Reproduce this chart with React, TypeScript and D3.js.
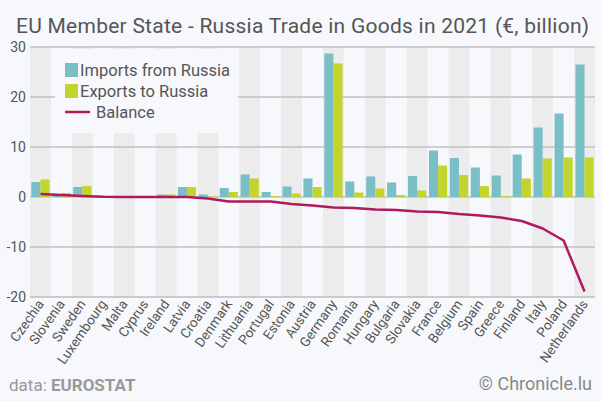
import React from "react";
import * as d3 from "d3";

const countries = ["Czechia","Slovenia","Sweden","Luxembourg","Malta","Cyprus","Ireland","Latvia","Croatia","Denmark","Lithuania","Portugal","Estonia","Austria","Germany","Romania","Hungary","Bulgaria","Slovakia","France","Belgium","Spain","Greece","Finland","Italy","Poland","Netherlands"];
const imports = [3.0,0.5,2.0,0.05,0.05,0.05,0.5,2.0,0.5,1.8,4.5,1.0,2.1,3.7,28.7,3.1,4.1,2.9,4.2,9.3,7.8,5.9,4.3,8.5,13.9,16.7,26.5];
const exportsR = [3.5,0.8,2.2,0.05,0.05,0.05,0.5,2.0,0.1,1.0,3.7,0.2,0.7,2.0,26.7,0.9,1.7,0.4,1.3,6.3,4.4,2.2,0.2,3.7,7.7,7.9,7.9];
const balance = [0.6,0.4,0.2,0.05,0,0,0,0,-0.3,-0.9,-0.9,-0.9,-1.4,-1.7,-2.1,-2.2,-2.5,-2.6,-2.9,-3.0,-3.4,-3.7,-4.1,-4.8,-6.3,-8.7,-18.9];
const yTicks = [30,20,10,0,-10,-20];

const W = 601, H = 401;
const left = 30, right = 595, top = 47, bottom = 297;
const FONT = "Roboto, 'Noto Sans', sans-serif";

export default function App() {
  const x = d3.scaleBand<string>().domain(countries).range([left, right]).padding(0);
  const y = d3.scaleLinear().domain([-20, 30]).range([bottom, top]);
  const bw = x.bandwidth();
  const inner = d3.scaleBand<string>().domain(["i", "e"]).range([0, bw]).paddingInner(0).paddingOuter(0.15);
  const line = d3.line<number>().x((_, i) => x(countries[i])! + bw / 2).y(d => y(d));

  return (
    <svg width={W} height={H} style={{ position: "absolute", left: 0, top: 0, background: "#f6f8fc" }}>
      <rect x={0} y={0} width={W} height={H} fill="#f6f8fc" />
      <text x={16} y={33} fontFamily={FONT} fontSize={21} letterSpacing={0.25} fill="#555">EU Member State - Russia Trade in Goods in 2021 (€, billion)</text>
      {countries.map((c, i) => i % 2 === 0 ? (
        <rect key={"b" + c} x={x(c)} y={top} width={bw} height={bottom - top} fill="#ebeceb" />
      ) : null)}
      {yTicks.map(t => (
        <g key={"t" + t}>
          <line x1={left} x2={right} y1={y(t)} y2={y(t)} stroke={t === -20 ? "#bdbdbd" : "#c2c2c2"} strokeWidth={1.5} />
          <text x={26} y={y(t) + 5} textAnchor="end" fontFamily={FONT} fontSize={14} fill="#555">{t}</text>
        </g>
      ))}
      <rect x={55} y={49} width={183} height={84} fill="#f6f8fc" />
      {countries.map((c, i) => (
        <g key={"bar" + c}>
          <rect x={x(c)! + inner("i")!} width={inner.bandwidth()} y={y(Math.max(0, imports[i]))} height={Math.abs(y(imports[i]) - y(0))} fill="#7bbfc6" />
          <rect x={x(c)! + inner("e")!} width={inner.bandwidth()} y={y(Math.max(0, exportsR[i]))} height={Math.abs(y(exportsR[i]) - y(0))} fill="#c2d42e" />
        </g>
      ))}
      <path d={line(balance) || ""} fill="none" stroke="#b0195d" strokeWidth={2.5} strokeLinejoin="round" />
      {countries.map(c => (
        <text key={"l" + c} transform={`translate(${x(c)! + bw / 2 + 4},${bottom + 7}) rotate(-55)`} textAnchor="end" fontFamily={FONT} fontSize={13.5} fill="#555">{c}</text>
      ))}
      <rect x={65} y={63} width={13} height={14} fill="#7bbfc6" />
      <text x={80} y={76} fontFamily={FONT} fontSize={16.5} fill="#555">Imports from Russia</text>
      <rect x={65} y={84} width={13} height={14} fill="#c2d42e" />
      <text x={80} y={97} fontFamily={FONT} fontSize={16.5} fill="#555">Exports to Russia</text>
      <line x1={65} x2={90} y1={112} y2={112} stroke="#b0195d" strokeWidth={2.5} />
      <text x={96} y={118} fontFamily={FONT} fontSize={16.5} fill="#555">Balance</text>
      <text x={9} y={391} fontFamily={FONT} fontSize={17} fill="#999">data: <tspan fontWeight="bold">EUROSTAT</tspan></text>
      <text x={592} y={390} textAnchor="end" fontFamily={FONT} fontSize={18} fill="#888">© Chronicle.lu</text>
    </svg>
  );
}
